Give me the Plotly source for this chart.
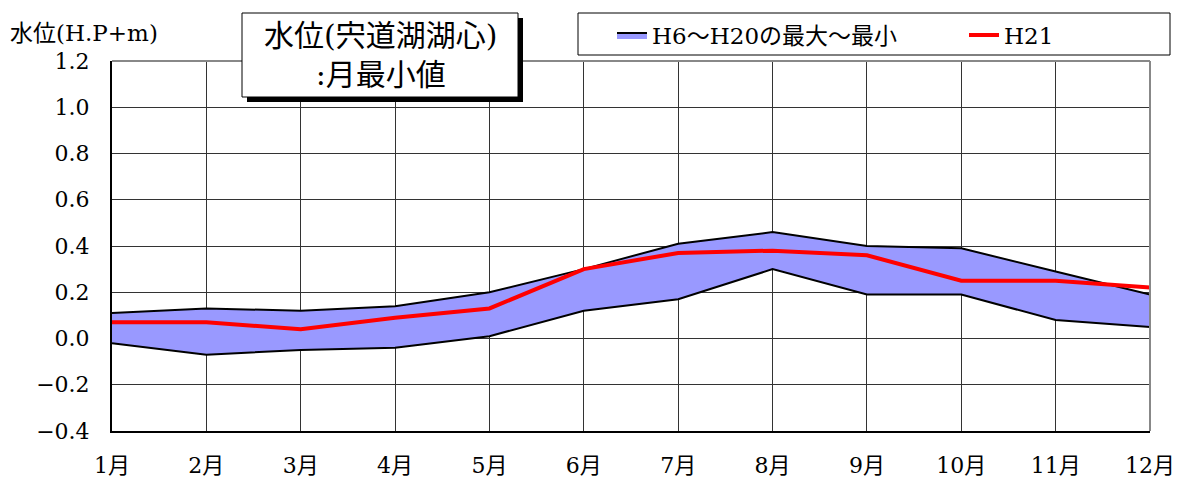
import plotly.graph_objects as go

months = ["1月", "2月", "3月", "4月", "5月", "6月", "7月", "8月", "9月", "10月", "11月", "12月"]
band_max = [0.11, 0.13, 0.12, 0.14, 0.20, 0.30, 0.41, 0.46, 0.40, 0.39, 0.29, 0.19]
band_min = [-0.02, -0.07, -0.05, -0.04, 0.01, 0.12, 0.17, 0.30, 0.19, 0.19, 0.08, 0.05]
h21 = [0.07, 0.07, 0.04, 0.09, 0.13, 0.30, 0.37, 0.38, 0.36, 0.25, 0.25, 0.22]
yticks = [-0.4, -0.2, 0.0, 0.2, 0.4, 0.6, 0.8, 1.0, 1.2]
band_name = "H6～H20の最大～最小"
line_name = "H21"
title_lines = ["水位(宍道湖湖心)", ":月最小値"]
ylabel = "水位(H.P+m)"

W, H = 1181, 481
L, R, T, B = 112, 1150, 61, 431
FONT = "DejaVu Serif, Noto Sans CJK JP, serif"

def px(x):
    return (x - L) / (R - L)

def py(y):
    return (B - y) / (B - T)

xs = list(range(1, len(months) + 1))

fig = go.Figure()
fig.add_trace(go.Scatter(
    x=xs + xs[::-1], y=band_max + band_min[::-1],
    fill="toself", fillcolor="#9999ff", mode="lines",
    line=dict(color="black", width=2), name=band_name, legend="legend",
))
fig.add_trace(go.Scatter(
    x=xs, y=h21, mode="lines", line=dict(color="#ff0000", width=4), name=line_name,
    legend="legend2",
))

shapes = [
    # top/right frame in gray
    dict(type="line", xref="paper", yref="paper", x0=0, x1=1, y0=1, y1=1,
         line=dict(color="#888", width=2)),
    dict(type="line", xref="paper", yref="paper", x0=1, x1=1, y0=0, y1=1,
         line=dict(color="#888", width=2)),
    # title shadow + box
    dict(type="rect", xref="paper", yref="paper", x0=px(247), x1=px(523), y0=py(102), y1=py(18),
         fillcolor="black", line=dict(width=0), layer="above"),
    dict(type="rect", xref="paper", yref="paper", x0=px(242), x1=px(518), y0=py(97), y1=py(13),
         fillcolor="white", line=dict(color="black", width=1), layer="above"),
    # legend box
    dict(type="rect", xref="paper", yref="paper", x0=px(578), x1=px(1170), y0=py(55), y1=py(13),
         fillcolor="white", line=dict(color="black", width=1), layer="above"),
]

annotations = [
    dict(text="<br>".join(title_lines), xref="paper", yref="paper", x=px(380), y=py(55),
         xanchor="center", yanchor="middle", showarrow=False,
         font=dict(family=FONT, size=30, color="black"), align="center"),
    dict(text=ylabel, xref="paper", yref="paper", x=px(8), y=py(33),
         xanchor="left", yanchor="middle", showarrow=False,
         font=dict(family=FONT, size=23, color="black")),
]

leg_common = dict(orientation="h", xanchor="left", yanchor="middle",
                  bgcolor="rgba(0,0,0,0)", borderwidth=0,
                  font=dict(family=FONT, size=23, color="black"))

fig.update_layout(
    width=W, height=H,
    margin=dict(l=L, r=W - R, t=T, b=H - B, pad=0, autoexpand=False),
    paper_bgcolor="white", plot_bgcolor="white",
    font=dict(family=FONT, size=22, color="black"),
    showlegend=True,
    legend=dict(x=px(612), y=py(35), **leg_common),
    legend2=dict(x=px(964), y=py(35), **leg_common),
    shapes=shapes, annotations=annotations,
    xaxis=dict(range=[1, 12], tickvals=xs, ticktext=months, showgrid=True,
               gridcolor="#333", gridwidth=1, showline=True, linecolor="black", linewidth=2,
               ticks="", zeroline=False, tickfont=dict(size=22), ticklabelstandoff=14),
    yaxis=dict(range=[-0.4, 1.2], tickvals=yticks,
               ticktext=[f"{v:.1f}".replace("-", "−") for v in yticks],
               showgrid=True, gridcolor="#333", gridwidth=1, showline=True, linecolor="black",
               linewidth=2, ticks="", zeroline=False, tickfont=dict(size=22),
               ticklabelstandoff=16),
)

fig.write_html("out.html")
